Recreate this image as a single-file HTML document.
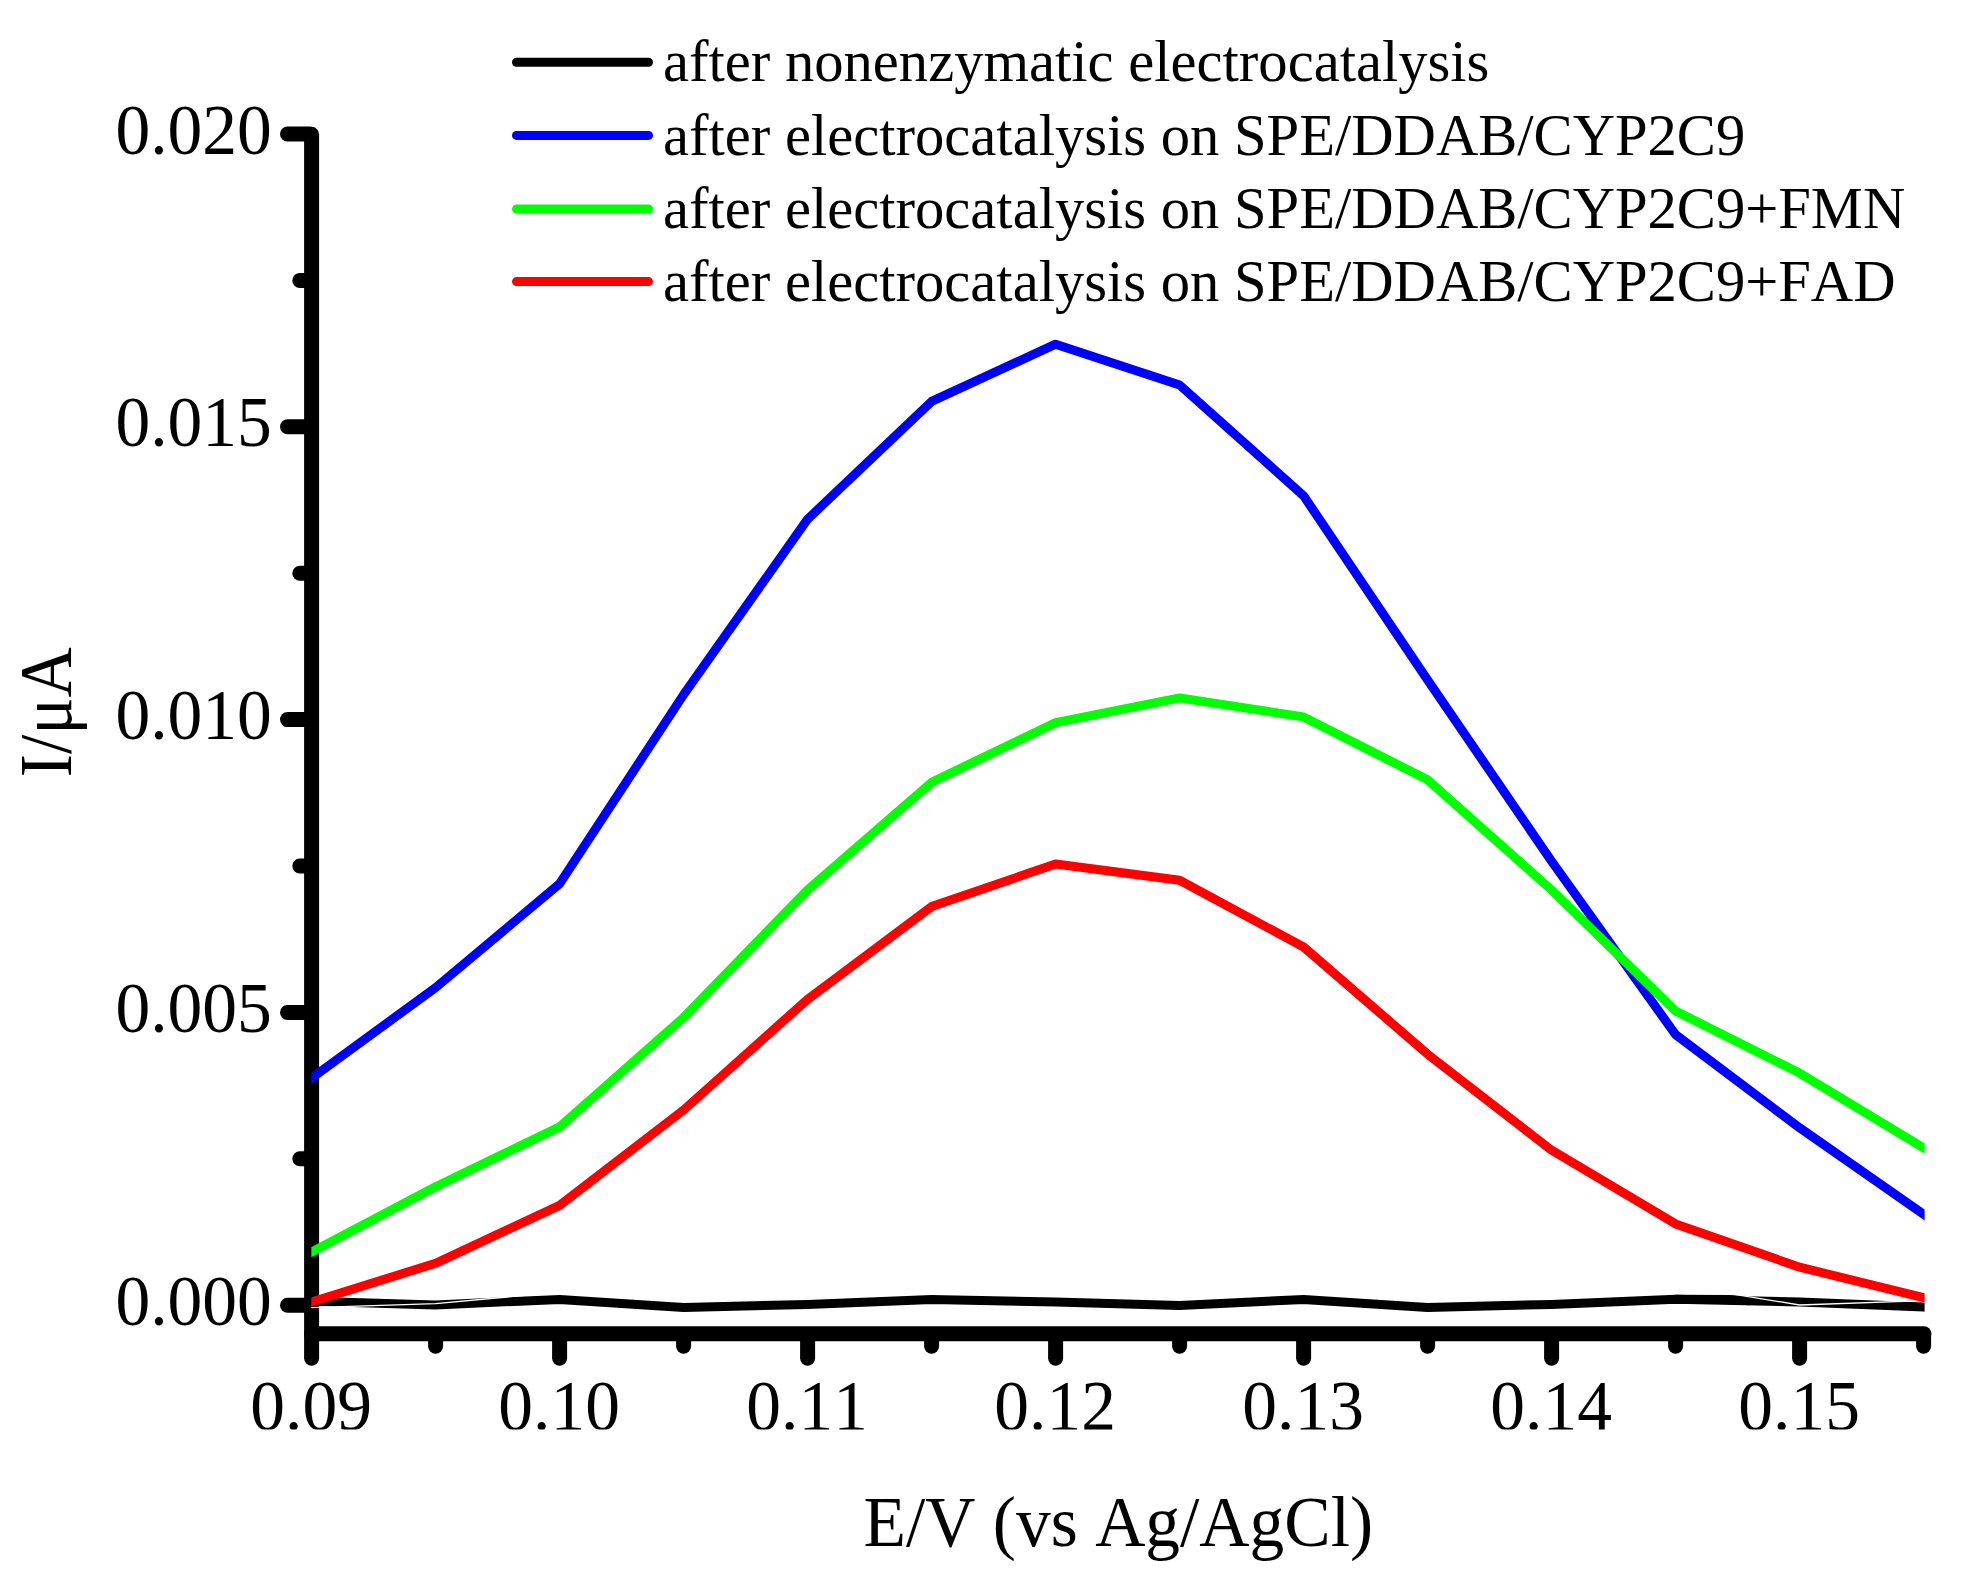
<!DOCTYPE html>
<html lang="en"><head><meta charset="utf-8"><title>DPV after electrocatalysis</title>
<style>html,body{margin:0;padding:0;background:#fff}body{width:1963px;height:1580px;overflow:hidden}svg{display:block}text{font-kerning:none;font-family:"Liberation Serif",serif;fill:#000}</style>
</head><body>
<svg width="1963" height="1580" viewBox="0 0 1963 1580">
<defs><clipPath id="plot"><rect x="311.3" y="100" width="1613.3" height="1230"/></clipPath>
<clipPath id="xt"><rect x="0" y="1340" width="1963" height="89.4"/></clipPath></defs>
<rect width="1963" height="1580" fill="#fff"/>
<g stroke="#000" stroke-width="15" stroke-linecap="round" fill="none">
<path d="M311.6,134.2 V1333.8"/>
<path d="M311.6,1333.8 H1924"/>
<path d="M287.5,1305.2 H309.6"/>
<path d="M299.8,1158.8 H309.6"/>
<path d="M287.5,1012.4 H309.6"/>
<path d="M299.8,866.0 H309.6"/>
<path d="M287.5,719.6 H309.6"/>
<path d="M299.8,573.2 H309.6"/>
<path d="M287.5,426.8 H309.6"/>
<path d="M299.8,280.4 H309.6"/>
<path d="M287.5,134.0 H309.6"/>
<path d="M311.6,1335.8 V1358.2"/>
<path d="M435.6,1335.8 V1346.2"/>
<path d="M559.6,1335.8 V1358.2"/>
<path d="M683.6,1335.8 V1346.2"/>
<path d="M807.6,1335.8 V1358.2"/>
<path d="M931.6,1335.8 V1346.2"/>
<path d="M1055.6,1335.8 V1358.2"/>
<path d="M1179.6,1335.8 V1346.2"/>
<path d="M1303.6,1335.8 V1358.2"/>
<path d="M1427.6,1335.8 V1346.2"/>
<path d="M1551.6,1335.8 V1358.2"/>
<path d="M1675.6,1335.8 V1346.2"/>
<path d="M1799.6,1335.8 V1358.2"/>
<path d="M1923.6,1335.8 V1346.2"/>
</g>
<g clip-path="url(#plot)" fill="none" stroke-width="9" stroke-linejoin="round">
<polyline stroke="#000" points="305.6,1301.0 311.6,1301.2 435.6,1304.9 559.6,1299.4 683.6,1307.4 807.6,1304.4 931.6,1299.4 1055.6,1302.0 1179.6,1305.4 1303.6,1299.4 1427.6,1307.4 1551.6,1304.4 1675.6,1299.3 1799.6,1302.0 1923.6,1307.1 1929.6,1307.3"/>
<polyline stroke="#000" points="1675.6,1299.3 1730,1299.4 1750,1300.8"/>
<polyline stroke="#fff" stroke-width="1.3" points="305.6,1307.7 435.6,1303.7 559.6,1292.1"/>
<polyline stroke="#fff" stroke-width="1.3" points="1675.6,1284.7 1799.6,1305 1929.6,1300.4"/>
<polyline stroke="#00f" points="305.6,1082.5 311.6,1078.1 435.6,987.6 559.6,883.8 683.6,694.6 807.6,519.2 931.6,401.4 1055.6,344.2 1179.6,385.0 1303.6,495.8 1427.6,680.0 1551.6,861.3 1675.6,1034.7 1799.6,1127.8 1923.6,1214.2 1929.6,1218.4"/>
<polyline stroke="#0f0" points="305.6,1255.2 311.6,1252.0 435.6,1186.8 559.6,1126.9 683.6,1017.5 807.6,889.8 931.6,782.3 1055.6,722.6 1179.6,697.9 1303.6,716.9 1427.6,779.8 1551.6,890.0 1675.6,1011.0 1799.6,1073.1 1923.6,1147.8 1929.6,1151.4"/>
<polyline stroke="#f00" points="305.6,1303.9 311.6,1302.0 435.6,1263.3 559.6,1205.4 683.6,1110.0 807.6,999.3 931.6,906.6 1055.6,864.0 1179.6,880.3 1303.6,947.0 1427.6,1054.2 1551.6,1150.2 1675.6,1223.9 1799.6,1267.2 1923.6,1297.6 1929.6,1299.1"/>
</g>
<g stroke-width="9" stroke-linecap="round" fill="none">
<path stroke="#000" d="M516.5,62.3 H648.5"/>
<path stroke="#00f" d="M516.5,135.4 H648.5"/>
<path stroke="#0f0" d="M516.5,209.0 H648.5"/>
<path stroke="#f00" d="M516.5,281.6 H648.5"/>
</g>
<g font-size="58.6">
<text x="663" y="81.1">after nonenzymatic electrocatalysis</text>
<text x="663" y="154.9">after electrocatalysis on SPE/DDAB/CYP2C9</text>
<text x="663" y="228.3">after electrocatalysis on SPE/DDAB/CYP2C9+FMN</text>
<text x="663" y="301.2">after electrocatalysis on SPE/DDAB/CYP2C9+FAD</text>
</g>
<g font-size="69.5" text-anchor="end">
<text transform="translate(271.8,1324.8) scale(1,1.03)">0.000</text>
<text transform="translate(271.8,1032.0) scale(1,1.03)">0.005</text>
<text transform="translate(271.8,739.2) scale(1,1.03)">0.010</text>
<text transform="translate(271.8,446.4) scale(1,1.03)">0.015</text>
<text transform="translate(271.8,153.6) scale(1,1.03)">0.020</text>
</g>
<g font-size="69.5" text-anchor="middle" clip-path="url(#xt)">
<text transform="translate(311.1,1429.8) scale(1,1.035)">0.09</text>
<text transform="translate(559.1,1429.8) scale(1,1.035)">0.10</text>
<text transform="translate(807.1,1429.8) scale(1,1.035)">0.11</text>
<text transform="translate(1055.1,1429.8) scale(1,1.035)">0.12</text>
<text transform="translate(1303.1,1429.8) scale(1,1.035)">0.13</text>
<text transform="translate(1551.1,1429.8) scale(1,1.035)">0.14</text>
<text transform="translate(1799.1,1429.8) scale(1,1.035)">0.15</text>
</g>
<text font-size="69.5" text-anchor="middle" transform="translate(1118.3,1545.6) scale(1,1.03)">E/V (vs Ag/AgCl)</text>
<text font-size="69.5" text-anchor="middle" transform="translate(70.6,712.3) rotate(-90) scale(1,1.05)">I/μA</text>
</svg>
</body></html>
